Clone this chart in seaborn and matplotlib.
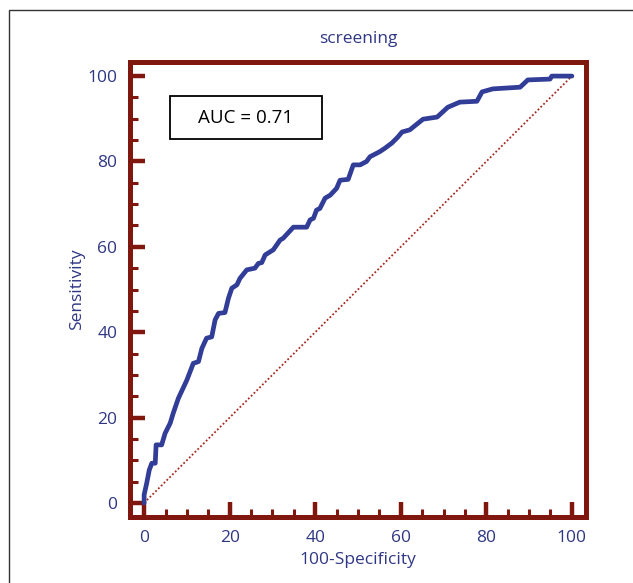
import pandas as pd
import matplotlib.pyplot as plt
import seaborn as sns
from matplotlib.patches import Rectangle
from matplotlib.ticker import MultipleLocator

# ── Data ────────────────────────────────────────────────────────────────
fpr = [0, 0, 0.6, 1.2, 1.8, 2.6, 2.8, 4.1, 4.9, 6.1, 6.8, 8.0, 10.0, 11.5, 12.7,
       13.5, 14.6, 15.8, 16.6, 17.4, 18.9, 19.7, 20.5, 21.7, 22.4, 24.0, 25.9,
       26.7, 27.5, 28.3, 30.2, 31.8, 32.5, 34.9, 38.0, 38.8, 39.6, 40.3, 41.1,
       42.3, 43.5, 45.0, 45.8, 47.7, 48.9, 50.5, 52.0, 52.8, 55.1, 56.3, 57.9,
       59.3, 60.3, 62.1, 65.2, 68.5, 71.0, 73.8, 77.8, 79.0, 81.5, 87.9, 89.7,
       94.9, 95.3, 100]
tpr = [0, 1.9, 4.6, 7.7, 9.3, 9.3, 13.6, 13.6, 16.3, 18.7, 21.0, 24.5, 28.8,
       32.7, 33.1, 36.2, 38.6, 38.9, 42.9, 44.4, 44.6, 47.9, 50.3, 51.1, 52.6,
       54.6, 55.0, 56.1, 56.3, 58.1, 59.3, 61.6, 62.0, 64.6, 64.6, 66.3, 66.7,
       68.6, 69.0, 71.4, 72.1, 73.7, 75.6, 75.8, 79.2, 79.2, 80.0, 81.1, 82.3,
       83.1, 84.3, 85.7, 86.9, 87.4, 89.9, 90.4, 92.7, 93.9, 94.1, 96.3, 97.0,
       97.4, 99.1, 99.3, 100, 100]
chance = [0, 100]
ticks = [0, 20, 40, 60, 80, 100]
auc_text = "AUC = 0.71"

RED = "#80170f"
NAVY = "#2f3784"
CURVE = "#313d96"

sns.set_style("white")
plt.rcParams['font.family'] = ['Open Sans', 'DejaVu Sans']

fig = plt.figure(figsize=(6.33, 5.83), dpi=100)
ax = fig.add_axes([130 / 633, 1 - 517 / 583, 456 / 633, 455 / 583])

roc = pd.DataFrame({"fpr": fpr, "tpr": tpr})
ax.plot(chance, chance, color="#a52a22", linestyle=(0, (1, 1.2)), linewidth=1.3)
sns.lineplot(data=roc, x="fpr", y="tpr", sort=False, estimator=None,
             color=CURVE, linewidth=3.4, ax=ax)

ax.set_xlim(-3.3, 103.3)
ax.set_ylim(-3.3, 103.3)
ax.set_xticks(ticks)
ax.set_yticks(ticks)
ax.xaxis.set_minor_locator(MultipleLocator(5))
ax.yaxis.set_minor_locator(MultipleLocator(5))
ax.tick_params(which="both", bottom=True, left=True, top=False, right=False)
ax.tick_params(which="major", direction="in", length=11, width=3.2, color=RED,
               labelsize=12.5, labelcolor=NAVY, pad=9)
ax.tick_params(which="minor", direction="in", length=5.5, width=2.2, color=RED)
for s in ax.spines.values():
    s.set_color(RED)
    s.set_linewidth(3.6)

ax.set_xlabel("100-Specificity", fontsize=12.5, color=NAVY, labelpad=5)
ax.set_ylabel("Sensitivity", fontsize=12.5, color=NAVY, labelpad=2)
ax.set_title("screening", fontsize=12.5, color=NAVY, pad=14)

# AUC box
ax.add_patch(Rectangle((6.1, 85.2), 35.4, 10.1, fill=False, edgecolor="black",
                       linewidth=1.3, zorder=5))
ax.text(23.8, 90.25, auc_text, ha="center", va="center", fontsize=13.5,
        color="black", zorder=6)

# thin outer frame around the figure
fig.add_artist(Rectangle((9 / 633, -0.1), 1.2, 1.1 - 10 / 583, fill=False,
                         edgecolor="#333333", linewidth=1.0,
                         transform=fig.transFigure))

fig.savefig("out.png", dpi=100)
